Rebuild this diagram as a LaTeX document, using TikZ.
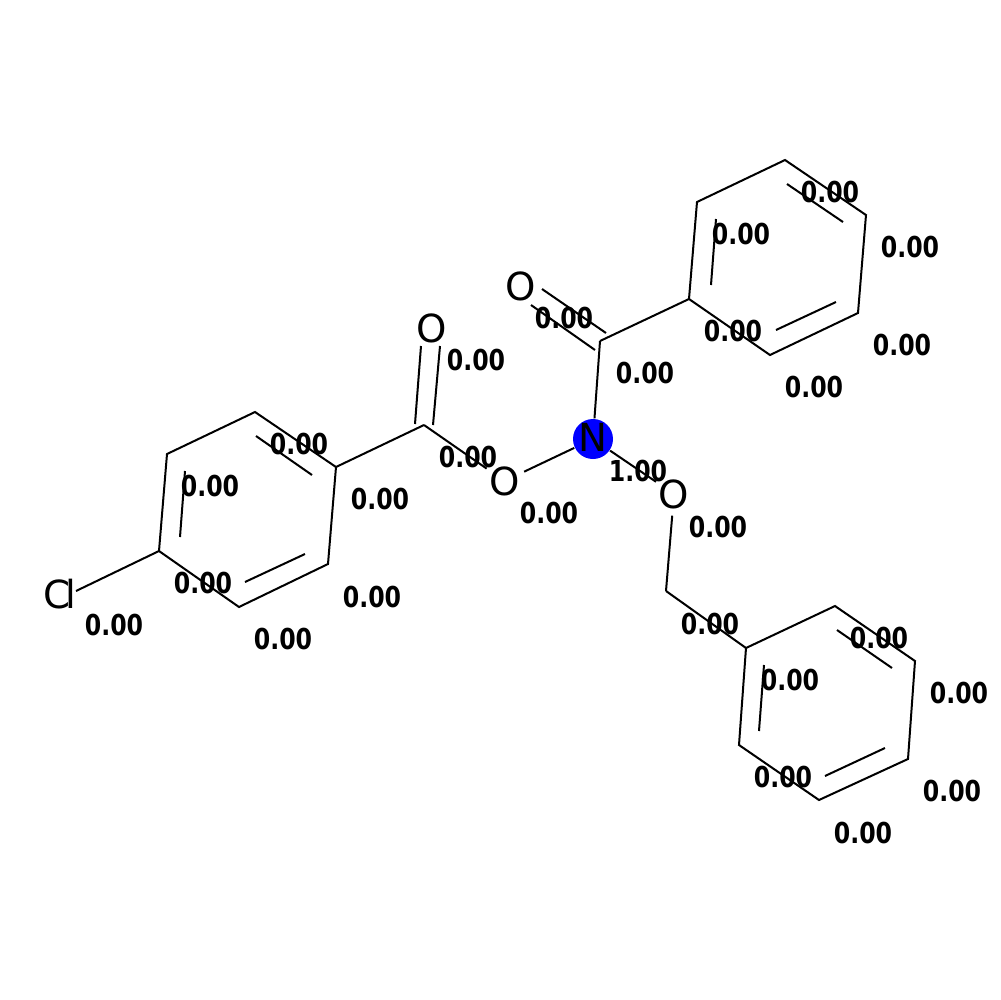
\documentclass[tikz,border=0pt]{standalone}
\usepackage{fontspec}
\setmainfont{DejaVu Sans}
\newfontfamily\scorefont[FakeStretch=0.82]{DejaVu Sans Bold}
\usetikzlibrary{calc}
\tikzset{
  atomlabel/.style={circle, inner sep=0pt, minimum size=3.3mm, font=\fontsize{11}{11}\selectfont},
  score/.style={inner sep=0pt, yshift=0.2mm, font=\scorefont\fontsize{8.2}{8.2}\selectfont},
  bond/.style={draw, line width=0.2mm}
}

\begin{document}
\begin{tikzpicture}[x=0.1mm, y=-0.1mm]
      \useasboundingbox (0, 0) rectangle (1000, 1000);

      % heteroatoms
      \node[circle, fill={rgb,255:red,0;green,0;blue,255}, inner sep=0pt, minimum size=4mm] (N) at (593, 439) {};
      \node[atomlabel] (Ntext) at (593, 437) {N};
      \node[atomlabel] (O1) at (431.5, 328) {O};
      \node[atomlabel] (O2) at (504.5, 481) {O};
      \node[atomlabel] (O3) at (520.5, 286) {O};
      \node[atomlabel] (O4) at (674, 494) {O};
      \node[rectangle, inner sep=0pt, font=\fontsize{11}{11}\selectfont] (Cl) at (60, 594) {C\kern-0.115em l};
      \coordinate (Clend) at (76, 591);

      % carbons
      \coordinate (a1) at (159, 551);
      \coordinate (a2) at (167, 454);
      \coordinate (a3) at (255, 412);
      \coordinate (a4) at (336, 467);
      \coordinate (a5) at (328, 564);
      \coordinate (a6) at (239, 607);
      \coordinate (b1) at (689, 299);
      \coordinate (b2) at (697, 202);
      \coordinate (b3) at (785, 160);
      \coordinate (b4) at (866, 215);
      \coordinate (b5) at (858, 313);
      \coordinate (b6) at (770, 355);
      \coordinate (c1) at (746, 648);
      \coordinate (c2) at (835, 606);
      \coordinate (c3) at (915, 661);
      \coordinate (c4) at (908, 759);
      \coordinate (c5) at (819, 800);
      \coordinate (c6) at (739, 745);
      \coordinate (k1) at (424, 425);
      \coordinate (k2) at (600, 341);
      \coordinate (m1) at (666, 591);

      % single bonds
      \draw[bond] (Clend) -- (a1);
      \draw[bond] (a1) -- (a2) -- (a3) -- (a4) -- (a5) -- (a6) -- cycle;
      \draw[bond] (a4) -- (k1);
      \draw[bond] (k1) -- (O2);
      \draw[bond] (O2) -- (N);
      \draw[bond] (N) -- (k2);
      \draw[bond] (k2) -- (b1);
      \draw[bond] (b1) -- (b2) -- (b3) -- (b4) -- (b5) -- (b6) -- cycle;
      \draw[bond] (N) -- (O4);
      \draw[bond] (O4) -- (m1);
      \draw[bond] (m1) -- (c1);
      \draw[bond] (c1) -- (c2) -- (c3) -- (c4) -- (c5) -- (c6) -- cycle;

      % double bonds, C=O
      \coordinate (d1) at (415, 424);
      \coordinate (d2) at (421, 346);
      \coordinate (d3) at (433, 425);
      \coordinate (d4) at (440, 346);
      \draw[bond] (d1) -- (d2);
      \draw[bond] (d3) -- (d4);
      \coordinate (d5) at (595, 350);
      \coordinate (d6) at (531, 305);
      \coordinate (d7) at (606, 333);
      \coordinate (d8) at (542, 289);
      \draw[bond] (d5) -- (d6);
      \draw[bond] (d7) -- (d8);

      % double bonds, rings
      \coordinate (e1) at (180, 537);
      \coordinate (e2) at (185, 471);
      \coordinate (e3) at (256, 436);
      \coordinate (e4) at (312, 475);
      \coordinate (e5) at (245, 582);
      \coordinate (e6) at (305, 554);
      \draw[bond] (e1) -- (e2);
      \draw[bond] (e3) -- (e4);
      \draw[bond] (e5) -- (e6);
      \coordinate (f1) at (711, 285);
      \coordinate (f2) at (716, 219);
      \coordinate (f3) at (787, 184);
      \coordinate (f4) at (843, 222);
      \coordinate (f5) at (776, 330);
      \coordinate (f6) at (836, 302);
      \draw[bond] (f1) -- (f2);
      \draw[bond] (f3) -- (f4);
      \draw[bond] (f5) -- (f6);
      \coordinate (g1) at (759, 731);
      \coordinate (g2) at (764, 665);
      \coordinate (g3) at (837, 630);
      \coordinate (g4) at (892, 668);
      \coordinate (g5) at (825, 776);
      \coordinate (g6) at (885, 748);
      \draw[bond] (g1) -- (g2);
      \draw[bond] (g3) -- (g4);
      \draw[bond] (g5) -- (g6);

      % scores
      \node[score] (sCl) at (114, 627) {0.00};
      \node[score] (sa1) at (203, 585) {0.00};
      \node[score] (sa2) at (210, 488) {0.00};
      \node[score] (sa3) at (299, 446) {0.00};
      \node[score] (sa4) at (380, 501) {0.00};
      \node[score] (sa5) at (372, 599) {0.00};
      \node[score] (sa6) at (283, 641) {0.00};
      \node[score] (sk1) at (468, 459) {0.00};
      \node[score] (sO1) at (476, 362) {0.00};
      \node[score] (sO2) at (549, 515) {0.00};
      \node[score] (sN) at (638, 473) {1.00};
      \node[score] (sk2) at (645, 375) {0.00};
      \node[score] (sO3) at (564, 320) {0.00};
      \node[score] (sb1) at (733, 333) {0.00};
      \node[score] (sb2) at (741, 236) {0.00};
      \node[score] (sb3) at (830, 194) {0.00};
      \node[score] (sb4) at (910, 249) {0.00};
      \node[score] (sb5) at (902, 347) {0.00};
      \node[score] (sb6) at (814, 389) {0.00};
      \node[score] (sO4) at (718, 529) {0.00};
      \node[score] (sm1) at (710, 626) {0.00};
      \node[score] (sc1) at (790, 682) {0.00};
      \node[score] (sc2) at (879, 640) {0.00};
      \node[score] (sc3) at (959, 695) {0.00};
      \node[score] (sc4) at (952, 793) {0.00};
      \node[score] (sc5) at (863, 835) {0.00};
      \node[score] (sc6) at (783, 779) {0.00};
    \end{tikzpicture}
\end{document}
